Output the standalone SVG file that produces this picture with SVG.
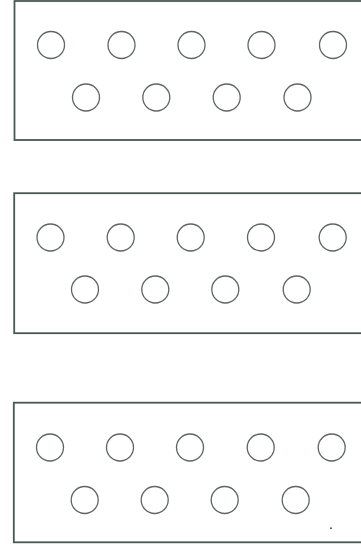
<svg xmlns="http://www.w3.org/2000/svg" width="361" height="552" viewBox="0 0 361 552">
<style>
.box{fill:none;stroke:#4a5752;stroke-width:1.8}
.c{fill:none;stroke:#5e6662;stroke-width:1.3}
</style>
<rect width="361" height="552" fill="#ffffff"/>
<g id="panel1">
<rect class="box" x="14.5" y="1" width="360" height="139"/>
<circle class="c" cx="51" cy="45" r="13.5"/>
<circle class="c" cx="121.5" cy="45" r="13.5"/>
<circle class="c" cx="191.5" cy="45" r="13.5"/>
<circle class="c" cx="261.5" cy="45" r="13.5"/>
<circle class="c" cx="333" cy="45" r="13.5"/>
<circle class="c" cx="86" cy="97.5" r="13.5"/>
<circle class="c" cx="156.3" cy="97.5" r="13.5"/>
<circle class="c" cx="226.7" cy="97.5" r="13.5"/>
<circle class="c" cx="297.5" cy="97.5" r="13.5"/>
</g>
<g id="panel2">
<rect class="box" x="14.2" y="193.2" width="360" height="140"/>
<circle class="c" cx="50.5" cy="237.5" r="13.5"/>
<circle class="c" cx="120.7" cy="237.5" r="13.5"/>
<circle class="c" cx="190.7" cy="237.5" r="13.5"/>
<circle class="c" cx="261" cy="237.5" r="13.5"/>
<circle class="c" cx="332.7" cy="237.5" r="13.5"/>
<circle class="c" cx="85" cy="289.5" r="13.5"/>
<circle class="c" cx="155.3" cy="289.5" r="13.5"/>
<circle class="c" cx="225.3" cy="289.5" r="13.5"/>
<circle class="c" cx="296.7" cy="289.5" r="13.5"/>
</g>
<g id="panel3">
<rect class="box" x="13.8" y="402.7" width="360" height="139.6"/>
<circle class="c" cx="50" cy="447.5" r="13.5"/>
<circle class="c" cx="120" cy="447.5" r="13.5"/>
<circle class="c" cx="190" cy="447.5" r="13.5"/>
<circle class="c" cx="260.7" cy="447.5" r="13.5"/>
<circle class="c" cx="331.7" cy="447.5" r="13.5"/>
<circle class="c" cx="84.7" cy="500" r="13.5"/>
<circle class="c" cx="154.7" cy="500" r="13.5"/>
<circle class="c" cx="224.7" cy="500" r="13.5"/>
<circle class="c" cx="295.7" cy="500" r="13.5"/>
<circle cx="331" cy="528.3" r="1" fill="#4a5752"/>
</g>
</svg>
